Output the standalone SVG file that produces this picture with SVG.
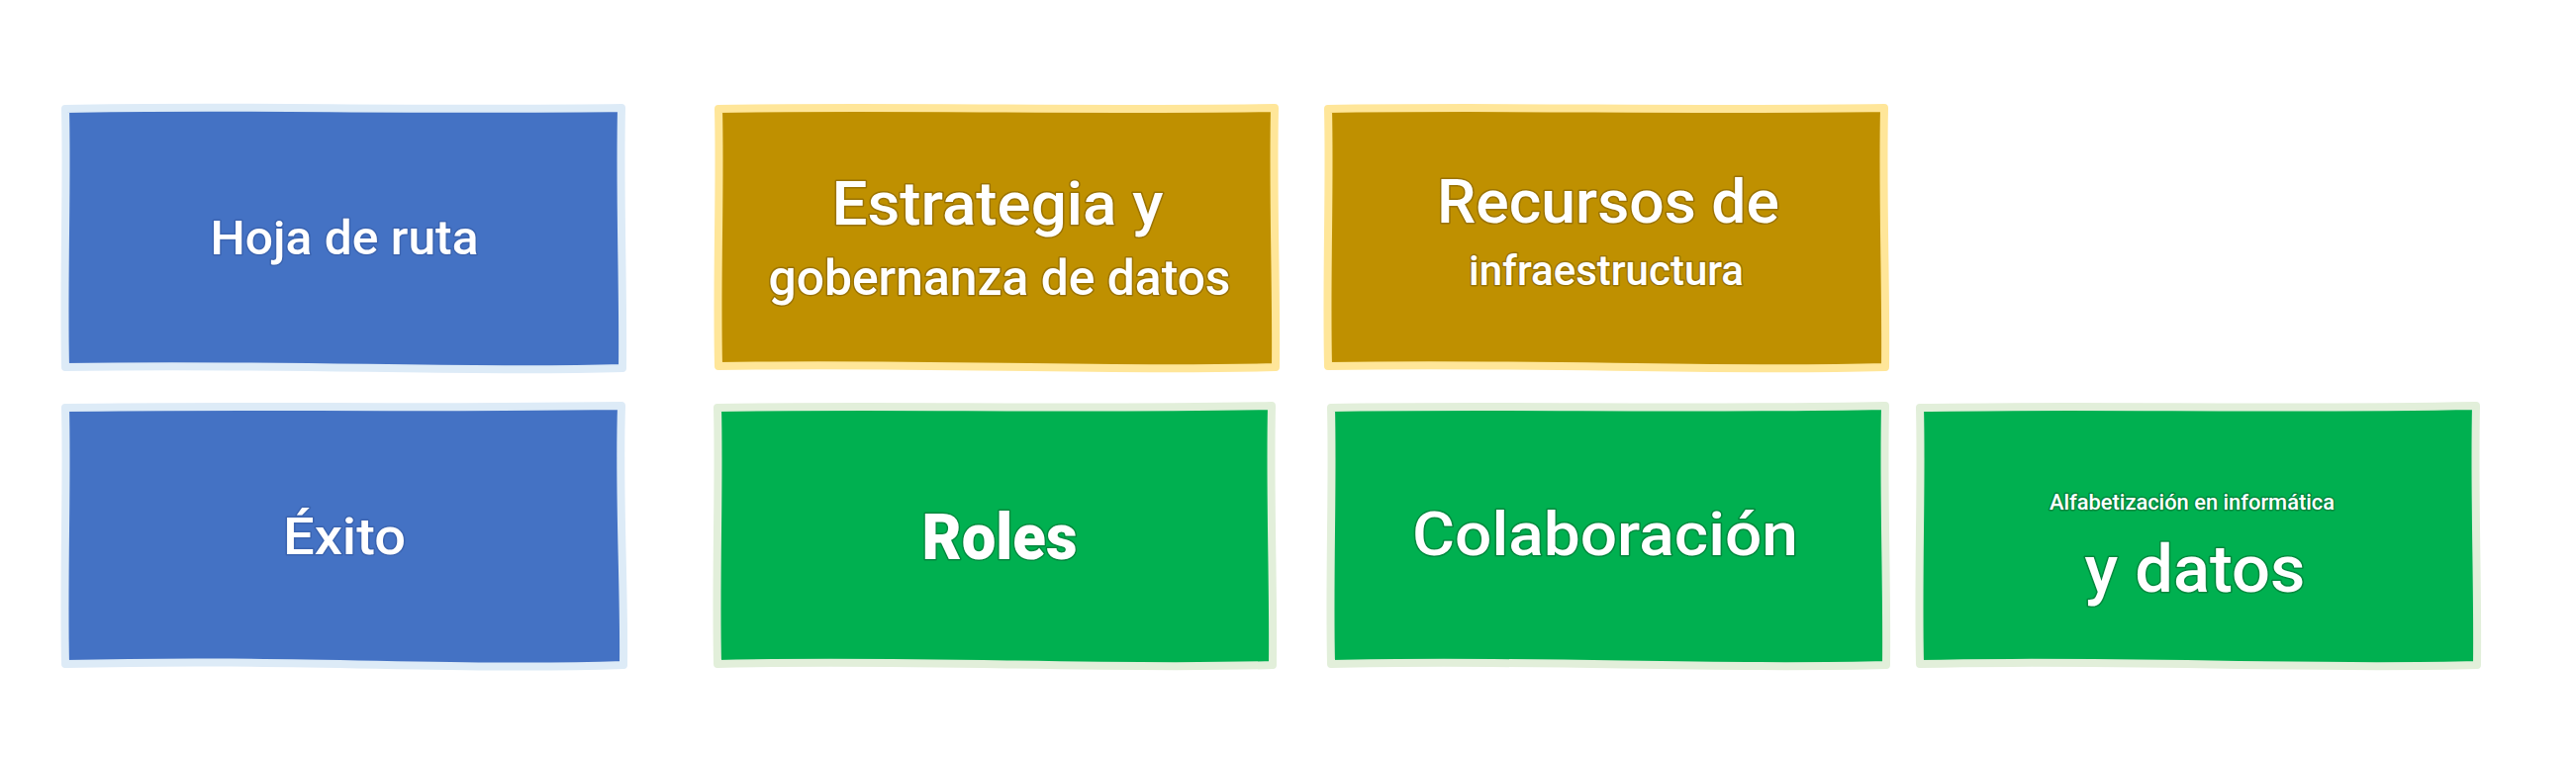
<svg xmlns="http://www.w3.org/2000/svg" width="2603" height="767" viewBox="0 0 2603 767">
<style>
  .box { stroke-width: 8; stroke-linejoin: round; }
  .blue { fill: #4472C4; stroke: #DDEBF7; }
  .gold { fill: #BF9000; stroke: #FFE699; }
  .green { fill: #00B050; stroke: #E2EFDA; }
  .t { font-family: Roboto, "Liberation Sans", sans-serif; font-weight: 500; fill: #FFFFFF; text-anchor: middle; paint-order: stroke; stroke-width: 3; stroke-linejoin: round; }
  .bold { font-weight: 900; }
  .tb { stroke: rgba(30,60,120,0.25); }
  .tg { stroke: rgba(110,80,0,0.45); }
  .tn { stroke: rgba(0,90,40,0.45); }
</style>
<rect width="2603" height="767" fill="#FFFFFF"/>
<g id="connectors"></g>
<g id="node-hoja">
  <path class="box blue" d="M66,110 C235,106 400,112 628,109 C626,200 630,290 629,372 C460,377 300,367 66,371 C64,280 68,190 66,110 Z"/>
  <text class="t tb" x="348" y="257" font-size="49" textLength="271" lengthAdjust="spacingAndGlyphs">Hoja de ruta</text>
</g>
<g id="node-estrategia">
  <path class="box gold" d="M726,110 C900,107 1080,112 1288,109 C1286,200 1290,290 1289,371 C1110,376 940,366 726,370 C724,280 728,190 726,110 Z"/>
  <text class="t tg" x="1008" y="227" font-size="62" textLength="335" lengthAdjust="spacingAndGlyphs">Estrategia y</text>
  <text class="t tg" x="1010" y="298" font-size="50" textLength="467" lengthAdjust="spacingAndGlyphs">gobernanza de datos</text>
</g>
<g id="node-recursos">
  <path class="box gold" d="M1342,110 C1520,107 1700,112 1904,109 C1902,200 1906,290 1905,371 C1720,376 1560,366 1342,370 C1340,280 1344,190 1342,110 Z"/>
  <text class="t tg" x="1625" y="225" font-size="61" textLength="346" lengthAdjust="spacingAndGlyphs">Recursos de</text>
  <text class="t tg" x="1623" y="288" font-size="42" textLength="278" lengthAdjust="spacingAndGlyphs">infraestructura</text>
</g>
<g id="node-exito">
  <path class="box blue" d="M66,412 C235,409 400,413 628,410 C625,500 631,590 630,672 C460,678 300,665 66,671 C64,580 68,490 66,412 Z"/>
  <text class="t tb" x="348" y="560" font-size="52" textLength="124" lengthAdjust="spacingAndGlyphs">Éxito</text>
</g>
<g id="node-roles">
  <path class="box green" d="M725,412 C900,409 1080,414 1285,410 C1283,500 1287,590 1286,672 C1110,677 940,666 725,671 C723,580 727,490 725,412 Z"/>
  <text class="t tn bold" x="1010" y="565" font-size="64" textLength="157" lengthAdjust="spacingAndGlyphs">Roles</text>
</g>
<g id="node-colaboracion">
  <path class="box green" d="M1345,412 C1520,409 1700,414 1905,410 C1903,500 1907,590 1906,672 C1720,677 1560,666 1345,671 C1343,580 1347,490 1345,412 Z"/>
  <text class="t tn" x="1622" y="561" font-size="62" textLength="390" lengthAdjust="spacingAndGlyphs">Colaboración</text>
</g>
<g id="node-alfabetizacion">
  <path class="box green" d="M1940,412 C2120,409 2300,414 2502,410 C2500,500 2504,590 2503,672 C2320,677 2150,666 1940,671 C1938,580 1942,490 1940,412 Z"/>
  <text class="t tn" x="2215" y="515" font-size="22" stroke-width="1.5" textLength="288" lengthAdjust="spacingAndGlyphs">Alfabetización en informática</text>
  <text class="t tn" x="2218" y="598" font-size="66" textLength="223" lengthAdjust="spacingAndGlyphs">y datos</text>
</g>
</svg>
